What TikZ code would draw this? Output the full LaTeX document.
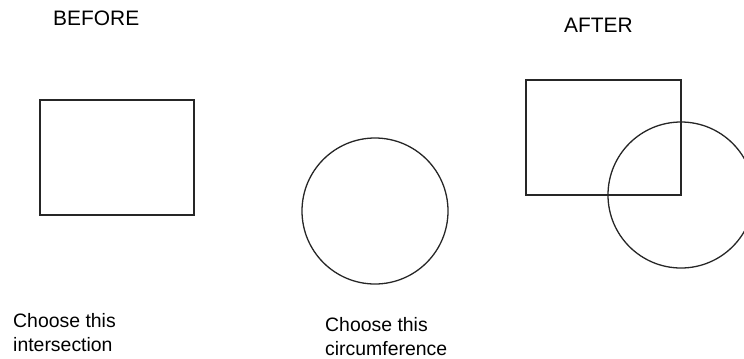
\documentclass[tikz,border=0pt]{standalone}
\usepackage{fontspec}
\setmainfont{Liberation Sans}
\usepackage{tikz}
\usetikzlibrary{positioning}

\begin{document}
\begin{tikzpicture}[x=1bp, y=-1bp,
    outline/.style={draw, line width=1.3bp, black!85},
    title/.style={anchor=north west, inner sep=0pt, font=\fontsize{21}{25}\selectfont},
    caption/.style={anchor=north west, inner sep=0pt, align=left, font=\fontsize{19.5}{24}\selectfont}
]
\useasboundingbox (0,0) rectangle (744,358);
\clip (0,0) rectangle (744,358);
% before
\node[title] (before) at (53,11) {BEFORE};
\draw[outline] (40,100) rectangle (194,215);
\draw[outline] (375,211) circle (73);
\node[caption] (pickint) at (13,313) {Choose this\\intersection};
\node[caption] (pickcirc) at (325,317) {Choose this\\circumference};
% after
\node[title] (after) at (564,18) {AFTER};
\draw[outline] (526,80) rectangle (681,195);
\draw[outline] (681,195) circle (73);
\end{tikzpicture}
\end{document}
